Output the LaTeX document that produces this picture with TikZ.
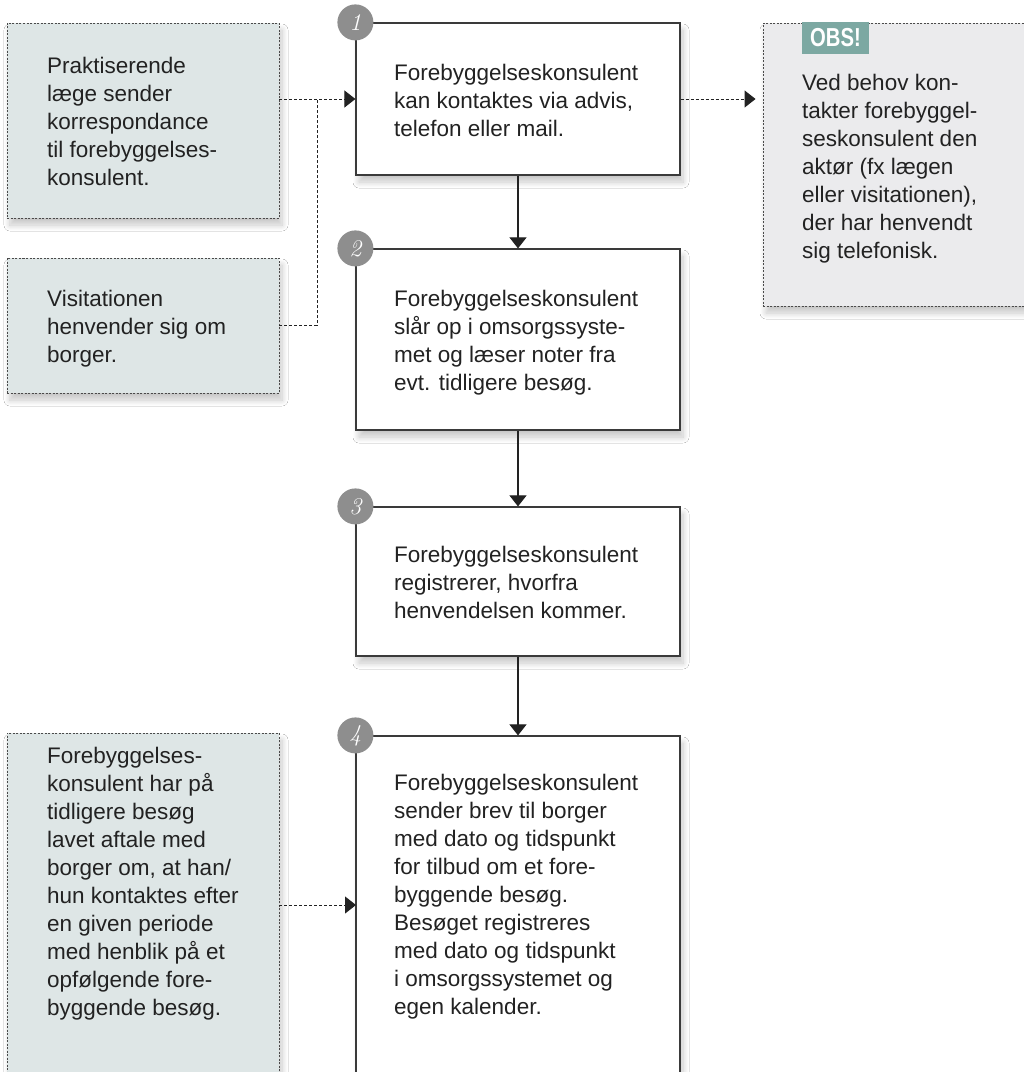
\documentclass[tikz,border=0pt]{standalone}
\usepackage{fontspec}
\setmainfont{Liberation Sans}
\newfontfamily\numfont{Latin Modern Roman}
\usetikzlibrary{arrows.meta,shadows.blur,calc}
\definecolor{txt}{HTML}{222222}
\definecolor{boxline}{HTML}{3A3A3A}
\definecolor{dotline}{HTML}{4A4A4A}
\definecolor{sidefill}{HTML}{DEE6E6}
\definecolor{obsfill}{HTML}{EBEBED}
\definecolor{obsteal}{HTML}{7CA8A2}
\definecolor{badgegray}{HTML}{8E8E8E}
\definecolor{connc}{HTML}{222222}
\tikzset{
  softshadow/.style={blur shadow={shadow xshift=3pt, shadow yshift=-7pt, shadow blur radius=6pt, shadow blur steps=12, shadow opacity=22}},
  mainbox/.style={draw=boxline, line width=1.2pt, fill=white, inner sep=0pt, minimum width=324pt, softshadow},
  sidebox/.style={draw=dotline, line width=0.9pt, dash pattern=on 2pt off 1.5pt, fill=sidefill, inner sep=0pt, minimum width=272pt, softshadow},
  obsbox/.style={sidebox, fill=obsfill},
  txtnode/.style={anchor=base west, inner sep=0pt, text=txt, font=\fontsize{22.5}{28}\selectfont},
  badge/.style={circle, fill=badgegray, minimum size=36pt, inner sep=0pt, text=white, font=\numfont\itshape\fontsize{24}{24}\selectfont},
  conn/.style={draw=connc, line width=1pt, dash pattern=on 3pt off 2pt},
  flow/.style={draw=connc, line width=1.1pt},
  arr/.style={-{Triangle[length=11pt,width=17pt]}},
}
\begin{document}
\begin{tikzpicture}[x=1pt,y=-1pt]
\useasboundingbox (0,0) rectangle (1024,1072);
\clip (0,0) rectangle (1024,1072);
\fill[white] (0,0) rectangle (1024,1072);

% side boxes
\node[sidebox, minimum height=195pt] (l1) at (143,120.5) {};
\node[sidebox, minimum height=135pt] (l2) at (143,325.5) {};
\node[sidebox, minimum height=367pt] (l3) at (143,916.5) {};
\node[obsbox, minimum width=267pt, minimum height=283pt] (obs) at (896.5,164.5) {};

% main boxes
\node[mainbox, minimum height=152pt] (b1) at (518,99) {};
\node[mainbox, minimum height=181pt] (b2) at (518,339.5) {};
\node[mainbox, minimum height=149pt] (b3) at (518,581.5) {};
\node[mainbox, minimum height=364pt] (b4) at (518,918) {};

% badges
\node[badge] (n1) at (b1.north west) {1};
\node[badge] (n2) at (b2.north west) {2};
\node[badge] (n3) at (b3.north west) {3};
\node[badge] (n4) at (b4.north west) {4};

% OBS label
\node[fill=obsteal, minimum width=67pt, minimum height=32pt, inner sep=0pt, text=white,
      font=\bfseries\fontsize{26}{26}\selectfont] (obslabel) at (835.5,38) {\scalebox{0.78}[1]{OBS!}};

% texts
\node[txtnode] (t1) at (394,80) {\parbox[t]{300pt}{\raggedright Forebyggelseskonsulent\\kan kontaktes via advis,\\telefon eller mail.}};
\node[txtnode] (t2) at (394,306.5) {\parbox[t]{300pt}{\raggedright Forebyggelseskonsulent\\slår op i omsorgssyste-\\met og læser noter fra\\evt. tidligere besøg.}};
\node[txtnode] (t3) at (394,562.5) {\parbox[t]{300pt}{\raggedright Forebyggelseskonsulent\\registrerer, hvorfra\\henvendelsen kommer.}};
\node[txtnode] (t4) at (394,790) {\parbox[t]{300pt}{\raggedright Forebyggelseskonsulent\\sender brev til borger\\med dato og tidspunkt\\for tilbud om et fore-\\byggende besøg.\\Besøget registreres\\med dato og tidspunkt\\i omsorgssystemet og\\egen kalender.}};
\node[txtnode] (tl1) at (47,73.5) {\parbox[t]{300pt}{\raggedright Praktiserende\\læge sender\\korrespondance\\til forebyggelses-\\konsulent.}};
\node[txtnode] (tl2) at (47,306) {\parbox[t]{300pt}{\raggedright Visitationen\\henvender sig om\\borger.}};
\node[txtnode] (tl3) at (47,763) {\parbox[t]{300pt}{\raggedright Forebyggelses-\\konsulent har på\\tidligere besøg\\lavet aftale med\\borger om, at han/\\hun kontaktes efter\\en given periode\\med henblik på et\\opfølgende fore-\\byggende besøg.}};
\node[txtnode] (tobs) at (802,90) {\parbox[t]{220pt}{\raggedright Ved behov kon-\\takter forebyggel-\\seskonsulent den\\aktør (fx lægen\\eller visitationen),\\der har henvendt\\sig telefonisk.}};

% connectors
\coordinate (j) at (317,99);
\coordinate (a4) at (356,905);
\draw[conn, arr] (l1.east |- b1.west) -- (b1.west);
\draw[conn] (l2.east) -| (j);
\draw[conn, arr, shorten >=7pt] (b1.east) -- (obs.west |- b1.east);
\draw[conn, arr] (l3.east |- a4) -- (a4);
\draw[flow, arr] (b1.south) -- (b2.north);
\draw[flow, arr] (b2.south) -- (b3.north);
\draw[flow, arr] (b3.south) -- (b4.north);
\end{tikzpicture}
\end{document}
